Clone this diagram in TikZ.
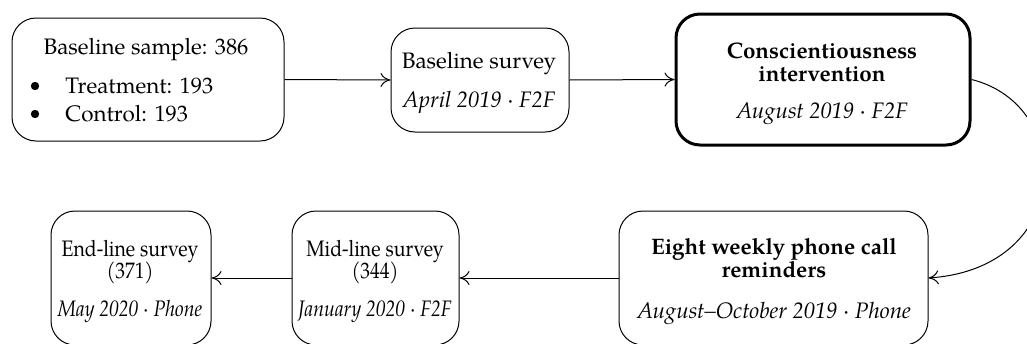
\documentclass[tikz,border=0pt]{standalone}
\usepackage{fontspec}
\setmainfont{texgyrepagella}[Extension=.otf, UprightFont=*-regular, BoldFont=*-bold, ItalicFont=*-italic, BoldItalicFont=*-bolditalic]
\usetikzlibrary{arrows.meta}
\tikzset{
  txtfont/.style={font=\fontsize{11.2pt}{11.5pt}\selectfont},
  box/.style={draw, line width=0.5pt, rounded corners=12pt, inner sep=0pt},
  thickbox/.style={box, line width=1.5pt},
  arr/.style={line width=0.5pt, -{To[length=5pt,width=7pt]}},
  lbl/.style={anchor=base, inner sep=0pt, txtfont},
  cond/.style={lbl, xscale=0.87},
  bul/.style={inner sep=0pt, circle, fill=black, minimum size=4.2pt}
}
\begin{document}
\begin{tikzpicture}[x=0.5pt,y=-0.5pt]
\clip (0,0) rectangle (1027,343);
% top row
\node[box, minimum width=136pt, minimum height=61.5pt] (A) at (148,79.5) {};
\node[lbl] (A0) at (146,54) {Baseline sample: 386};
\node[bul] (b1) at (35,86) {};
\node[lbl, anchor=base west] (A1) at (65,93) {Treatment: 193};
\node[bul] (b2) at (35,114) {};
\node[lbl, anchor=base west] (A2) at (65,121) {Control: 193};

\node[box, minimum width=89pt, minimum height=52pt] (B) at (480,80) {};
\node[lbl] (B1) at (479,68) {Baseline survey};
\node[lbl] (B2) at (479,107) {\textit{April 2019 · F2F}};

\node[thickbox, minimum width=147pt, minimum height=65.5pt] (C) at (823,79.5) {};
\node[lbl] (C1) at (822,58) {\textbf{Conscientiousness}};
\node[lbl] (C2) at (822,81) {\textbf{intervention}};
\node[lbl] (C3) at (822,118) {\textit{August 2019 · F2F}};

% bottom row
\node[box, minimum width=154.5pt, minimum height=67pt] (D) at (773.5,278) {};
\node[lbl] (D1) at (774,254) {\textbf{Eight weekly phone call}};
\node[lbl] (D2) at (774,277) {\textbf{reminders}};
\node[lbl] (D3) at (774,318) {\textit{August--October 2019 · Phone}};

\node[box, minimum width=83.5pt, minimum height=67pt] (E) at (375.5,278) {};
\node[cond] (E1) at (375,256.5) {Mid-line survey};
\node[cond] (E2) at (375,278.5) {(344)};
\node[cond] (E3) at (375,316.5) {\textit{January 2020 · F2F}};

\node[box, minimum width=80pt, minimum height=67pt] (F) at (131,278) {};
\node[cond] (F1) at (130,256.5) {End-line survey};
\node[cond] (F2) at (130,278.5) {(371)};
\node[cond] (F3) at (130,316.5) {\textit{May 2020 · Phone}};

% connectors
\draw[arr] (A.east) -- (B.west);
\draw[arr] (B.east) -- (C.west);
\draw[arr] (C.east) .. controls (1075,105) and (1075,268) .. (D.east);
\draw[arr] (D.west) -- (E.east);
\draw[arr] (E.west) -- (F.east);
\end{tikzpicture}
\end{document}
